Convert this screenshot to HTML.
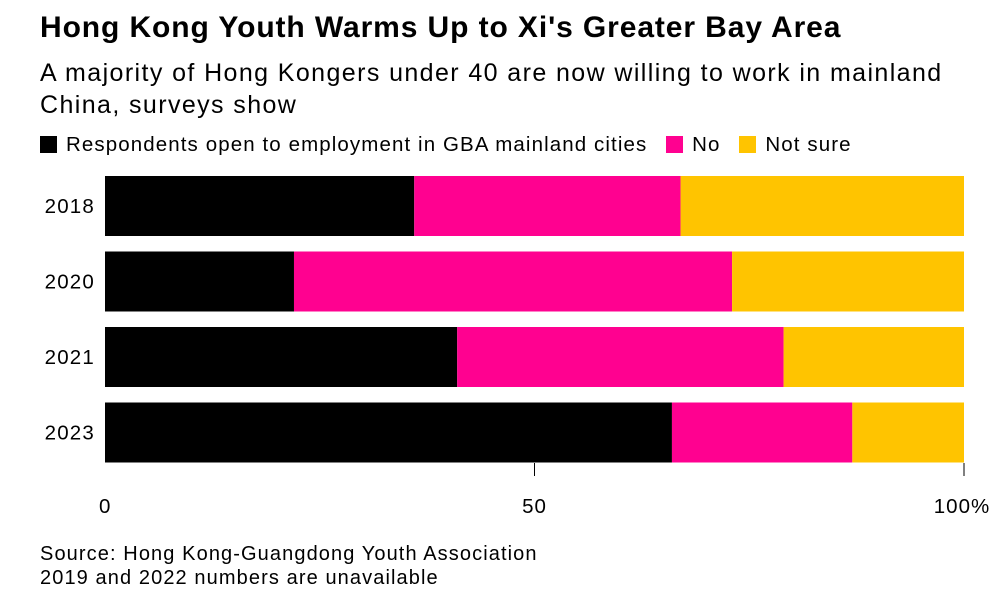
<!DOCTYPE html>
<html><head><meta charset="utf-8"><style>
html,body{margin:0;padding:0;background:#fff;width:1005px;height:597px;overflow:hidden;font-family:"Liberation Sans",Arial,sans-serif;color:#000}
.t{position:absolute;white-space:nowrap}
</style></head><body>
<div class="t" style="left:40px;top:11px;font-size:30px;font-weight:bold;letter-spacing:0.9px">Hong Kong Youth Warms Up to Xi's Greater Bay Area</div>
<div class="t" style="left:40px;top:57px;font-size:25px;line-height:32px;letter-spacing:1.4px">A majority of Hong Kongers under 40 are now willing to work in mainland<br>China, surveys show</div>
<div class="t" style="left:40px;top:133px;font-size:20.5px;line-height:24px;letter-spacing:1.1px">
<span><span style="display:inline-block;width:17px;height:17px;background:#000;vertical-align:-2px;margin-right:9px"></span>Respondents open to employment in GBA mainland cities</span>
<span style="margin-left:12px"><span style="display:inline-block;width:17px;height:17px;background:#ff0190;vertical-align:-2px;margin-right:9px"></span>No</span>
<span style="margin-left:12px"><span style="display:inline-block;width:17px;height:17px;background:#ffc400;vertical-align:-2px;margin-right:9px"></span>Not sure</span>
</div>
<svg id="chart" width="1005" height="597" style="position:absolute;left:0;top:0"></svg>
<div class="t" style="left:40px;top:542px;font-size:20px;line-height:24px;letter-spacing:1.1px">Source: Hong Kong-Guangdong Youth Association<br>2019 and 2022 numbers are unavailable</div>
<script>
const categories=["2018","2020","2021","2023"];
const openValues=[36,22,41,66];
const noValues=[31,51,38,21];
const notSureValues=[33,27,21,13];
const tickValues=[0,50,100];
const tickLabels=["0","50","100%"];
const NS="http://www.w3.org/2000/svg";
const svg=document.getElementById("chart");
const x=v=>105+v*8.59;
const y=i=>176+i*75.5;
const bh=60;
function mk(t,a){const e=document.createElementNS(NS,t);for(const k in a)e.setAttribute(k,a[k]);svg.appendChild(e);return e;}
const series=[[openValues,"#000","open"],[noValues,"#ff0190","no"],[notSureValues,"#ffc400","not-sure"]];
categories.forEach((c,i)=>{
  let acc=0;
  series.forEach(([vals,col,nm])=>{
    const r=mk("rect",{x:x(acc),y:y(i),width:x(acc+vals[i])-x(acc),height:bh,fill:col});
    
    
    acc+=vals[i];
  });
  const t=mk("text",{x:95,y:y(i)+bh/2+7,"text-anchor":"end","font-size":20.5,"letter-spacing":"1.2px","font-family":"Liberation Sans, Arial, sans-serif"});
  t.textContent=c;
  
  
});
tickValues.forEach((v,i)=>{
  if(v>0){const l=mk("line",{x1:x(v),x2:x(v),y1:463,y2:476,stroke:"#000","stroke-width":1});
  
  }
  const anchor=i===0?"start":"middle";
  const t=mk("text",{x:i===0?x(v)-6:(i===tickValues.length-1?x(v)-2:x(v)),y:513,"text-anchor":anchor,"font-size":20.5,"letter-spacing":"1px","font-family":"Liberation Sans, Arial, sans-serif"});
  t.textContent=tickLabels[i];
  
  
});
</script>
</body></html>
